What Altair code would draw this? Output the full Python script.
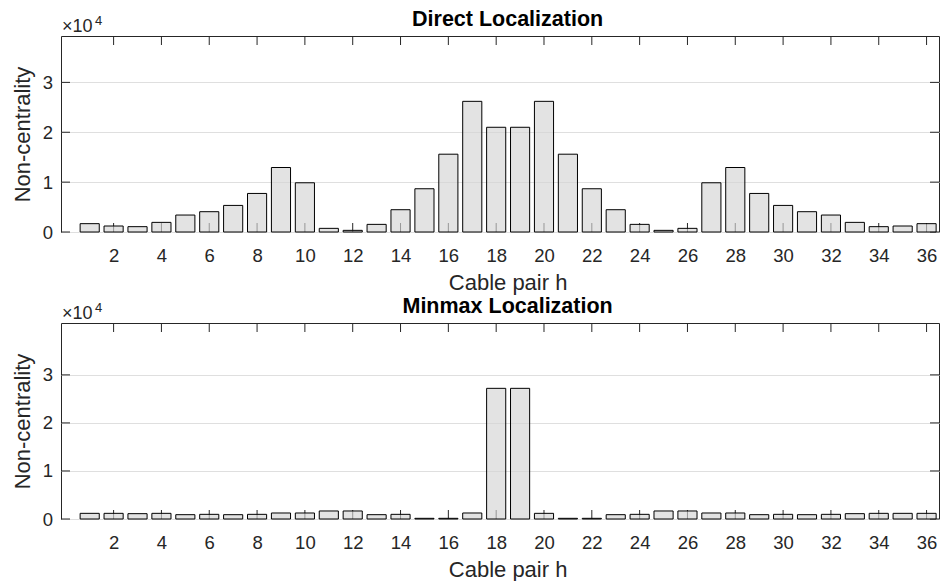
import altair as alt
import pandas as pd

pairs = list(range(1, 37))
direct_vals = [1670, 1200, 1070, 1930, 3400, 4070, 5330, 7730, 12930, 9870,
               730, 330, 1530, 4470, 8670, 15600, 26200, 21000, 21000, 26200,
               15600, 8670, 4470, 1530, 330, 730, 9870, 12930, 7730, 5330,
               4070, 3400, 1930, 1070, 1200, 1670]
minmax_vals = [1180, 1180, 1110, 1180, 900, 970, 900, 970, 1250, 1250,
               1670, 1670, 900, 970, 140, 140, 1250, 27200, 27200, 1180,
               140, 140, 900, 970, 1670, 1670, 1250, 1250, 900, 970,
               900, 970, 1110, 1180, 1180, 1180]
x_ticks = list(range(2, 37, 2))
y_ticks = [0, 10000, 20000, 30000]
titles = ["Direct Localization", "Minmax Localization"]
y_max = [39300, 40800]
x_domain = [-0.2, 36.52]

FONT = "Liberation Sans"
DARK = "#262626"
W, H = 878, 196
TL = 9  # tick length
CX = 446.6  # horizontal centre of titles

x_axis = alt.Axis(
    orient="bottom", values=x_ticks, title="Cable pair h", grid=False,
    domain=False, ticks=False, tickSize=0,
    labelPadding=14.4, labelFontSize=18.5, labelColor=DARK, labelFont=FONT,
    titleFont=FONT, titleFontSize=22, titleFontWeight="normal", titleColor=DARK,
    titleX=CX, titleY=57, titleBaseline="alphabetic",
    titleAlign="center", labelFlush=False)
y_axis = alt.Axis(
    orient="left", values=y_ticks, labelExpr="'' + datum.value / 10000",
    title="Non-centrality", grid=True, gridColor="#dfdfdf", gridWidth=1,
    domain=False, ticks=False, tickSize=0,
    labelPadding=8.5, labelFontSize=18.5, labelColor=DARK, labelFont=FONT,
    titleFont=FONT, titleFontSize=22, titleFontWeight="normal", titleColor=DARK,
    titleX=-32, titleY=H / 2, titleBaseline="alphabetic", titleAngle=270,
    titleAlign="center", labelFlush=False)


def panel(vals, title, ymax):
    df = pd.DataFrame({"h": pairs, "v": vals})
    xs = alt.Scale(domain=x_domain, nice=False, zero=False)
    ys = alt.Scale(domain=[0, ymax], nice=False, zero=False)

    bars = alt.Chart(df).transform_calculate(
        lo="datum.h - 0.4", hi="datum.h + 0.4"
    ).mark_bar(fill="#d4d4d4", fillOpacity=0.65, stroke="black", strokeWidth=1).encode(
        x=alt.X("lo:Q", scale=xs, axis=x_axis),
        x2="hi:Q",
        y=alt.Y("v:Q", scale=ys, axis=y_axis),
        y2=alt.datum(0),
    )

    xt = pd.DataFrame({"t": x_ticks})
    yt = pd.DataFrame({"t": y_ticks})
    tick_style = dict(color=DARK, strokeWidth=1)
    bottom_ticks = alt.Chart(xt).mark_rule(**tick_style).encode(
        x=alt.X("t:Q", scale=xs, axis=x_axis), y=alt.value(H), y2=alt.value(H - TL))
    top_ticks = alt.Chart(xt).mark_rule(**tick_style).encode(
        x=alt.X("t:Q", scale=xs, axis=x_axis), y=alt.value(0), y2=alt.value(TL))
    left_ticks = alt.Chart(yt).mark_rule(**tick_style).encode(
        y=alt.Y("t:Q", scale=ys, axis=y_axis), x=alt.value(0), x2=alt.value(TL))
    right_ticks = alt.Chart(yt).mark_rule(**tick_style).encode(
        y=alt.Y("t:Q", scale=ys, axis=y_axis), x=alt.value(W), x2=alt.value(W - TL))

    ttl = alt.Chart(pd.DataFrame({"t": [title]})).mark_text(
        align="center", baseline="alphabetic", fontSize=21.5, font=FONT,
        fontWeight="bold", color="black"
    ).encode(text="t:N", x=alt.value(CX), y=alt.value(-10))
    mult = alt.Chart(pd.DataFrame({"t": ["×10"]})).mark_text(
        align="left", baseline="alphabetic", fontSize=18, font=FONT, color=DARK
    ).encode(text="t:N", x=alt.value(1), y=alt.value(-4.5))
    expo = alt.Chart(pd.DataFrame({"t": ["4"]})).mark_text(
        align="left", baseline="alphabetic", fontSize=13, font=FONT, color=DARK
    ).encode(text="t:N", x=alt.value(34), y=alt.value(-11))

    return alt.layer(
        bottom_ticks, top_ticks, left_ticks, right_ticks, bars, ttl, mult, expo
    ).properties(width=W, height=H)


top = panel(direct_vals, titles[0], y_max[0])
bottom = panel(minmax_vals, titles[1], y_max[1])

chart = alt.vconcat(top, bottom, spacing=1).configure_view(
    stroke=DARK, strokeWidth=1
).properties(padding={"left": 2, "top": 0, "right": 0, "bottom": 0})

chart.save("out.html", embed_options={"renderer": "svg", "actions": False})
